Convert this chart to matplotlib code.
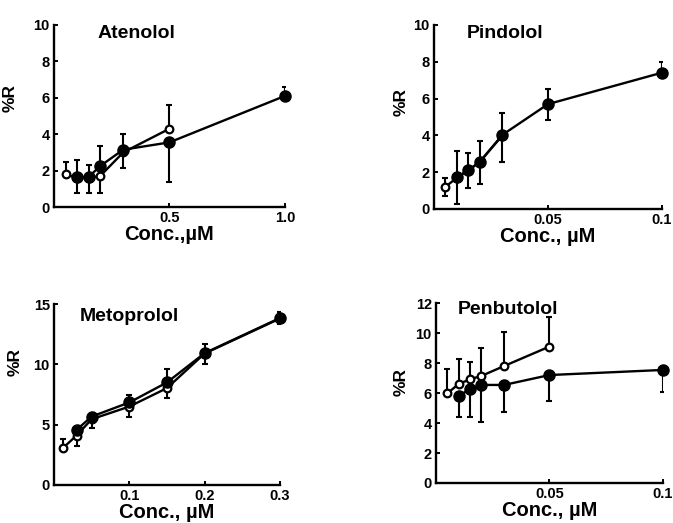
import numpy as np
import matplotlib
matplotlib.use('Agg')
import matplotlib.pyplot as plt

plt.rcParams['font.family'] = ['Liberation Sans', 'DejaVu Sans']
plt.rcParams['font.weight'] = 'bold'

# --- Atenolol ---
ate_open_x = [0.05, 0.1, 0.15, 0.2, 0.3, 0.5]
ate_open_y = [1.8, 1.6, 1.6, 1.7, 3.0, 4.3]
ate_open_lo = [0, 0, 0, 0.95, 0.85, 0]
ate_open_hi = [0.65, 0, 0, 0, 0, 1.3]
ate_fill_x = [0.1, 0.15, 0.2, 0.3, 0.5, 1.0]
ate_fill_y = [1.65, 1.65, 2.25, 3.15, 3.55, 6.1]
ate_fill_lo = [0.9, 0.9, 0, 0, 2.15, 0]
ate_fill_hi = [0.95, 0.65, 1.1, 0.85, 0, 0.5]

# --- Pindolol ---
pin_open_x = [0.005, 0.01, 0.015, 0.02, 0.03]
pin_open_y = [1.2, 1.7, 2.1, 2.55, 4.0]
pin_open_lo = [0.47, 0, 0, 0, 0]
pin_open_hi = [0.48, 0, 0, 0, 0]
pin_fill_x = [0.01, 0.015, 0.02, 0.03, 0.05, 0.1]
pin_fill_y = [1.72, 2.1, 2.55, 4.03, 5.7, 7.41]
pin_fill_lo = [1.43, 0.96, 1.18, 1.48, 0.85, 0]
pin_fill_hi = [1.41, 0.94, 1.15, 1.17, 0.8, 0.56]

# --- Metoprolol ---
met_open_x = [0.0125, 0.03, 0.05, 0.1, 0.15, 0.2, 0.3]
met_open_y = [3.1, 4.1, 5.45, 6.5, 8.03, 10.9, 13.8]
met_open_lo = [0, 0.83, 0.69, 0.83, 0.83, 0, 0]
met_open_hi = [0.72, 0, 0, 0, 0, 0, 0]
met_fill_x = [0.03, 0.05, 0.1, 0.15, 0.2, 0.3]
met_fill_y = [4.57, 5.67, 6.84, 8.5, 10.93, 13.84]
met_fill_lo = [0, 0, 0, 0, 0.91, 0.5]
met_fill_hi = [0, 0.33, 0.58, 1.1, 0.72, 0.46]

# --- Penbutolol ---
pen_open_x = [0.005, 0.01, 0.015, 0.02, 0.03, 0.05]
pen_open_y = [5.98, 6.6, 6.92, 7.14, 7.8, 9.1]
pen_open_lo = [0, 0, 0, 0, 0, 0]
pen_open_hi = [1.6, 1.65, 1.18, 1.89, 2.3, 1.94]
pen_fill_x = [0.01, 0.015, 0.02, 0.03, 0.05, 0.1]
pen_fill_y = [5.8, 6.27, 6.54, 6.54, 7.2, 7.54]
pen_fill_lo = [1.38, 1.85, 2.46, 1.79, 1.71, 1.5]
pen_fill_hi = [0, 0, 0, 0, 0, 0]

panels = [
    dict(title='Atenolol', rect=[0.0802, 0.6042, 0.343, 0.348],
         xlim=(0, 1.0), xticks=[0.5, 1.0], xlabels=['0.5', '1.0'],
         ylim=(0, 10), yticks=[0, 2, 4, 6, 8, 10],
         title_xy=(0.19, 1.0), ylab_xy=(-0.19, 0.6), xlabel='Conc.,\u00b5M',
         op=(ate_open_x, ate_open_y, ate_open_lo, ate_open_hi),
         fi=(ate_fill_x, ate_fill_y, ate_fill_lo, ate_fill_hi)),
    dict(title='Pindolol', rect=[0.6449, 0.6004, 0.3388, 0.3518],
         xlim=(0, 0.1), xticks=[0.05, 0.1], xlabels=['0.05', '0.1'],
         ylim=(0, 10), yticks=[0, 2, 4, 6, 8, 10],
         title_xy=(0.145, 1.0), ylab_xy=(-0.145, 0.58), xlabel='Conc., \u00b5M',
         op=(pin_open_x, pin_open_y, pin_open_lo, pin_open_hi),
         fi=(pin_fill_x, pin_fill_y, pin_fill_lo, pin_fill_hi)),
    dict(title='Metoprolol', rect=[0.0802, 0.0727, 0.3358, 0.346],
         xlim=(0, 0.3), xticks=[0.1, 0.2, 0.3], xlabels=['0.1', '0.2', '0.3'],
         ylim=(0, 15), yticks=[0, 5, 10, 15],
         title_xy=(0.115, 0.98), ylab_xy=(-0.17, 0.68), xlabel='Conc., \u00b5M',
         op=(met_open_x, met_open_y, met_open_lo, met_open_hi),
         fi=(met_fill_x, met_fill_y, met_fill_lo, met_fill_hi)),
    dict(title='Penbutolol', rect=[0.6478, 0.0765, 0.3373, 0.344],
         xlim=(0, 0.1), xticks=[0.05, 0.1], xlabels=['0.05', '0.1'],
         ylim=(0, 12), yticks=[0, 2, 4, 6, 8, 10, 12],
         title_xy=(0.095, 1.01), ylab_xy=(-0.155, 0.56), xlabel='Conc., \u00b5M',
         op=(pen_open_x, pen_open_y, pen_open_lo, pen_open_hi),
         fi=(pen_fill_x, pen_fill_y, pen_fill_lo, pen_fill_hi)),
]

fig = plt.figure(figsize=(6.73, 5.23), dpi=100)

for p in panels:
    ax = fig.add_axes(p['rect'])
    ax.set_xlim(*p['xlim'])
    ax.set_ylim(*p['ylim'])
    for side in ('top', 'right'):
        ax.spines[side].set_visible(False)
    for side in ('left', 'bottom'):
        ax.spines[side].set_linewidth(1.7)
    ax.set_xticks(p['xticks'])
    ax.set_xticklabels(p['xlabels'])
    ax.set_yticks(p['yticks'])
    ax.tick_params(direction='in', length=3, width=1.4, labelsize=10.5, pad=3)
    ax.set_xlabel(p['xlabel'], fontsize=14.5, fontweight='bold', labelpad=0)
    ax.set_ylabel('%R', fontsize=12.5, fontweight='bold', va='center')
    ax.yaxis.set_label_coords(*p['ylab_xy'])
    ax.text(p['title_xy'][0], p['title_xy'][1], p['title'], transform=ax.transAxes,
            fontsize=14, fontweight='bold', ha='left', va='top')

    ox, oy, olo, ohi = p['op']
    fx, fy, flo, fhi = p['fi']
    ax.errorbar(ox, oy, yerr=[olo, ohi], fmt='none', ecolor='black',
                elinewidth=1.5, capsize=2.5, capthick=1.5, zorder=2)
    ax.errorbar(fx, fy, yerr=[flo, fhi], fmt='none', ecolor='black',
                elinewidth=1.5, capsize=2.5, capthick=1.5, zorder=2)
    ax.plot(ox, oy, '-o', color='black', lw=1.7, ms=5.5, mfc='white',
            mec='black', mew=1.6, zorder=3, clip_on=False)
    ax.plot(fx, fy, '-o', color='black', lw=1.7, ms=8, mfc='black',
            mec='black', zorder=4, clip_on=False)

fig.savefig('out.png', dpi=100)
